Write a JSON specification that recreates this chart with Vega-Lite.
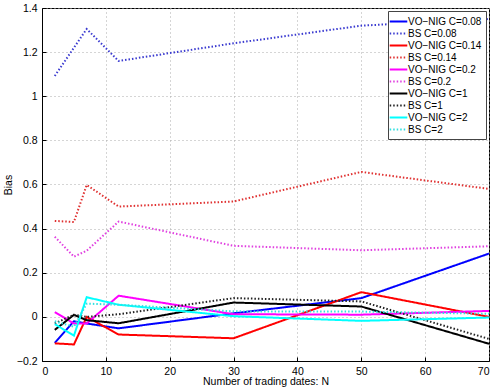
{
  "$schema": "https://vega.github.io/schema/vega-lite/v6.json",
  "width": 447,
  "height": 353,
  "autosize": {"type": "none"},
  "padding": {"left": 42, "top": 8, "right": 6, "bottom": 26},
  "background": "white",
  "config": {
    "font": "Liberation Sans",
    "view": {"stroke": "#000", "strokeWidth": 1},
    "axis": {
      "labelFont": "Liberation Sans", "labelFontSize": 10.5, "labelColor": "#000",
      "titleFont": "Liberation Sans", "titleFontSize": 10.5, "titleFontWeight": "normal", "titleColor": "#000",
      "domainColor": "#000", "tickColor": "#000", "tickSize": -4, "labelPadding": 9,
      "grid": true, "gridColor": "#aaa", "gridDash": [1, 3], "gridWidth": 1
    },
    "legend": {
      "labelFont": "Liberation Sans", "labelFontSize": 10, "labelColor": "#000",
      "fillColor": "white", "strokeColor": "#444", "strokeWidth": 1,
      "padding": 4, "rowPadding": 0, "symbolType": "M-1.6,0H1.6", "symbolSize": 121,
      "symbolStrokeWidth": 2, "labelOffset": 3
    }
  },
  "data": {
    "values": [
      {"series": "VO−NIG C=0.08", "N": 2, "bias": -0.118},
      {"series": "VO−NIG C=0.08", "N": 5, "bias": -0.02},
      {"series": "VO−NIG C=0.08", "N": 7, "bias": -0.03},
      {"series": "VO−NIG C=0.08", "N": 12, "bias": -0.052},
      {"series": "VO−NIG C=0.08", "N": 30, "bias": 0.016},
      {"series": "VO−NIG C=0.08", "N": 50, "bias": 0.085},
      {"series": "VO−NIG C=0.08", "N": 70, "bias": 0.287},
      {"series": "BS C=0.08", "N": 2, "bias": 1.092},
      {"series": "BS C=0.08", "N": 5, "bias": 1.22},
      {"series": "BS C=0.08", "N": 7, "bias": 1.305},
      {"series": "BS C=0.08", "N": 12, "bias": 1.16},
      {"series": "BS C=0.08", "N": 30, "bias": 1.24},
      {"series": "BS C=0.08", "N": 50, "bias": 1.32},
      {"series": "BS C=0.08", "N": 70, "bias": 1.35},
      {"series": "VO−NIG C=0.14", "N": 2, "bias": -0.12},
      {"series": "VO−NIG C=0.14", "N": 5, "bias": -0.125},
      {"series": "VO−NIG C=0.14", "N": 7, "bias": 0.0},
      {"series": "VO−NIG C=0.14", "N": 12, "bias": -0.08},
      {"series": "VO−NIG C=0.14", "N": 30, "bias": -0.097},
      {"series": "VO−NIG C=0.14", "N": 50, "bias": 0.112},
      {"series": "VO−NIG C=0.14", "N": 70, "bias": 0.0},
      {"series": "BS C=0.14", "N": 2, "bias": 0.435},
      {"series": "BS C=0.14", "N": 5, "bias": 0.43},
      {"series": "BS C=0.14", "N": 7, "bias": 0.598},
      {"series": "BS C=0.14", "N": 12, "bias": 0.5},
      {"series": "BS C=0.14", "N": 30, "bias": 0.523},
      {"series": "BS C=0.14", "N": 50, "bias": 0.657},
      {"series": "BS C=0.14", "N": 70, "bias": 0.58},
      {"series": "VO−NIG C=0.2", "N": 2, "bias": 0.022},
      {"series": "VO−NIG C=0.2", "N": 5, "bias": -0.03},
      {"series": "VO−NIG C=0.2", "N": 7, "bias": -0.03},
      {"series": "VO−NIG C=0.2", "N": 12, "bias": 0.096},
      {"series": "VO−NIG C=0.2", "N": 30, "bias": 0.012},
      {"series": "VO−NIG C=0.2", "N": 50, "bias": 0.01},
      {"series": "VO−NIG C=0.2", "N": 70, "bias": 0.027},
      {"series": "BS C=0.2", "N": 2, "bias": 0.363},
      {"series": "BS C=0.2", "N": 5, "bias": 0.273},
      {"series": "BS C=0.2", "N": 7, "bias": 0.3},
      {"series": "BS C=0.2", "N": 12, "bias": 0.432},
      {"series": "BS C=0.2", "N": 30, "bias": 0.322},
      {"series": "BS C=0.2", "N": 50, "bias": 0.302},
      {"series": "BS C=0.2", "N": 70, "bias": 0.32},
      {"series": "VO−NIG C=1", "N": 2, "bias": -0.059},
      {"series": "VO−NIG C=1", "N": 5, "bias": 0.009},
      {"series": "VO−NIG C=1", "N": 7, "bias": -0.015},
      {"series": "VO−NIG C=1", "N": 12, "bias": -0.029},
      {"series": "VO−NIG C=1", "N": 30, "bias": 0.065},
      {"series": "VO−NIG C=1", "N": 50, "bias": 0.047},
      {"series": "VO−NIG C=1", "N": 70, "bias": -0.122},
      {"series": "BS C=1", "N": 2, "bias": -0.03},
      {"series": "BS C=1", "N": 5, "bias": 0.01},
      {"series": "BS C=1", "N": 7, "bias": 0.0},
      {"series": "BS C=1", "N": 12, "bias": 0.012},
      {"series": "BS C=1", "N": 30, "bias": 0.085},
      {"series": "BS C=1", "N": 50, "bias": 0.07},
      {"series": "BS C=1", "N": 70, "bias": -0.1},
      {"series": "VO−NIG C=2", "N": 2, "bias": -0.033},
      {"series": "VO−NIG C=2", "N": 5, "bias": -0.085},
      {"series": "VO−NIG C=2", "N": 7, "bias": 0.089},
      {"series": "VO−NIG C=2", "N": 12, "bias": 0.055},
      {"series": "VO−NIG C=2", "N": 30, "bias": 0.003},
      {"series": "VO−NIG C=2", "N": 50, "bias": -0.018},
      {"series": "VO−NIG C=2", "N": 70, "bias": -0.003},
      {"series": "BS C=2", "N": 2, "bias": -0.02},
      {"series": "BS C=2", "N": 5, "bias": -0.045},
      {"series": "BS C=2", "N": 7, "bias": 0.06},
      {"series": "BS C=2", "N": 12, "bias": 0.055},
      {"series": "BS C=2", "N": 30, "bias": 0.025},
      {"series": "BS C=2", "N": 50, "bias": 0.024},
      {"series": "BS C=2", "N": 70, "bias": 0.014}
    ]
  },
  "mark": {"type": "line", "strokeWidth": 2, "clip": true},
  "encoding": {
    "x": {
      "field": "N", "type": "quantitative",
      "scale": {"domain": [0, 70], "nice": false},
      "axis": {"values": [0, 10, 20, 30, 40, 50, 60, 70], "title": "Number of trading dates: N", "titlePadding": 0}
    },
    "y": {
      "field": "bias", "type": "quantitative",
      "scale": {"domain": [-0.2, 1.4], "nice": false, "zero": false},
      "axis": {"values": [-0.2, 0, 0.2, 0.4, 0.6, 0.8, 1, 1.2, 1.4], "format": ".1~f", "title": "Bias", "titlePadding": 3}
    },
    "color": {
      "field": "series", "type": "nominal", "title": null,
      "scale": {
        "domain": ["VO−NIG C=0.08", "BS C=0.08", "VO−NIG C=0.14", "BS C=0.14", "VO−NIG C=0.2", "BS C=0.2", "VO−NIG C=1", "BS C=1", "VO−NIG C=2", "BS C=2"],
        "range": ["#0000ff", "#3a3ad0", "#ff0000", "#e03030", "#ff00ff", "#e040e0", "#000000", "#222222", "#00ffff", "#30e0e0"]
      },
      "legend": {"orient": "top-right", "offset": 3}
    },
    "strokeDash": {
      "field": "series", "type": "nominal", "title": null,
      "scale": {
        "domain": ["VO−NIG C=0.08", "BS C=0.08", "VO−NIG C=0.14", "BS C=0.14", "VO−NIG C=0.2", "BS C=0.2", "VO−NIG C=1", "BS C=1", "VO−NIG C=2", "BS C=2"],
        "range": [[1, 0], [1.5, 2], [1, 0], [1.5, 2], [1, 0], [1.5, 2], [1, 0], [1.5, 2], [1, 0], [1.5, 2]]
      },
      "legend": {"orient": "top-right", "offset": 3}
    }
  }
}
